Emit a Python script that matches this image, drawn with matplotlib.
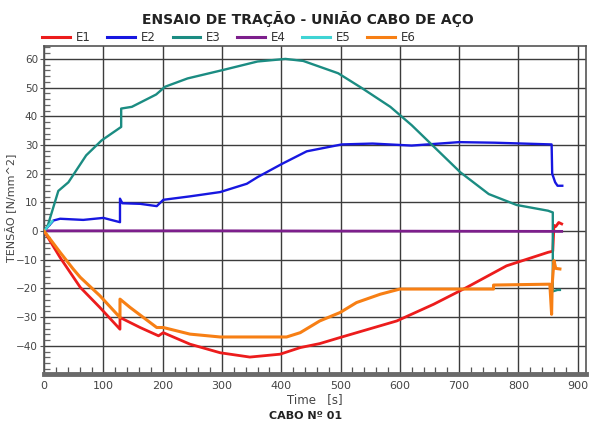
import numpy as np
from matplotlib import pyplot as plt
from matplotlib.lines import Line2D
from matplotlib.ticker import MultipleLocator

# time [s] / tensao [N/mm^2]
E1_t = [0, 27, 61, 94, 128, 128, 162, 193, 201, 246, 297, 347, 398, 432, 465, 499, 595, 657, 713, 780, 850, 858, 860, 863, 868, 873]
E1_v = [0, -9.2, -19.6, -26.6, -34.2, -30.1, -33.6, -36.5, -35.4, -39.4, -42.4, -43.9, -42.9, -40.6, -39.2, -37.1, -31.3, -25.5,
        -19.6, -12.1, -7.4, -7.0, 2.0, 1.6, 3.0, 2.5]

E2_t = [0, 16, 27, 66, 100, 128, 128, 132, 162, 190, 201, 246, 297, 342, 360, 401, 443, 502, 554, 620, 700, 760, 856, 857,
        862, 866, 874]
E2_v = [0, 3.7, 4.3, 3.9, 4.6, 3.1, 11.3, 9.7, 9.5, 8.7, 10.9, 12.1, 13.6, 16.5, 18.8, 23.4, 27.8, 30.2, 30.5, 29.8, 31.0,
        30.8, 30.2, 20.0, 17.0, 15.8, 15.8]

E3_t = [0, 6, 24, 41, 71, 97, 130, 130, 148, 189, 204, 242, 301, 360, 407, 437, 496, 537, 584, 620, 661, 702, 750, 797,
        850, 858, 858, 866, 870]
E3_v = [0, 1.8, 14.0, 17.0, 26.4, 31.6, 36.3, 42.7, 43.3, 47.6, 50.3, 53.2, 56.1, 59.1, 60.0, 59.3, 55.0, 49.7, 43.3,
        36.9, 28.7, 20.5, 12.9, 9.1, 7.1, 6.5, -21.0, -20.5, -20.5]

E4_t = [0, 280, 520, 873]
E4_v = [0.1, 0.1, 0, -0.1]

E5_t = [0, 8, 14]
E5_v = [0, 2.0, 3.5]

E6_t = [0, 27, 49, 61, 94, 128, 128, 145, 190, 201, 246, 297, 409, 432, 465, 499, 527, 567, 600, 713, 758, 758, 853, 856,
        857, 860, 863, 870]
E6_v = [0, -7.4, -13.2, -16.1, -22.5, -30.1, -23.7, -26.6, -33.6, -33.6, -35.9, -36.9, -36.9, -35.4, -31.3, -28.4, -24.9,
        -22.0, -20.2, -20.2, -20.2, -18.8, -18.5, -29.0, -18.5, -10.3, -13.0, -13.2]

SERIES = [("E1", E1_t, E1_v, "#ec1c1c", 2.0),
          ("E2", E2_t, E2_v, "#1717e0", 1.7),
          ("E3", E3_t, E3_v, "#1b8c82", 1.7),
          ("E4", E4_t, E4_v, "#7d1f8c", 2.0),
          ("E5", E5_t, E5_v, "#3fd4d4", 1.7),
          ("E6", E6_t, E6_v, "#f77f14", 2.2)]

fig = plt.figure(figsize=(5.89, 4.23), dpi=100)
ax = fig.add_axes([43.5 / 589, 1 - 374 / 423, (586 - 43.5) / 589, (374 - 46) / 423])

for name, t, v, color, lw in SERIES:
    ax.plot(t, v, color=color, lw=lw, solid_joinstyle='round', zorder=3)

ax.set_xlim(-1, 914)
ax.set_ylim(-49.8, 64.5)

ax.xaxis.set_major_locator(MultipleLocator(100))
ax.xaxis.set_minor_locator(MultipleLocator(20))
ax.yaxis.set_major_locator(MultipleLocator(10))
ax.yaxis.set_minor_locator(MultipleLocator(2))
ax.grid(True, which='major', color='#3c3c3c', lw=1.0, zorder=1)

ax.tick_params(axis='x', which='major', length=0, labelsize=8, pad=5, colors='#333', labelcolor='#444')
ax.tick_params(axis='x', which='minor', direction='in', length=5, width=0.9, colors='#555')
ax.tick_params(axis='y', which='major', direction='out', length=3, labelsize=7.5, pad=1, colors='#555', labelcolor='#444')
ax.tick_params(axis='y', which='minor', direction='in', length=4, width=0.9, colors='#666')

for side in ['top', 'right', 'left']:
    ax.spines[side].set_color('#555')
    ax.spines[side].set_linewidth(1.2)
ax.spines['bottom'].set_color('#6a6a6a')
ax.spines['bottom'].set_linewidth(3.5)

handles = [Line2D([], [], color=c, lw=2.2) for _, _, _, c, _ in SERIES]
fig.legend(handles, [s[0] for s in SERIES], loc='center left', bbox_to_anchor=(0.072, 0.912), ncol=6,
           frameon=False, borderpad=0, borderaxespad=0, handlelength=2.3, handletextpad=0.5,
           columnspacing=1.45, prop={'size': 8.5}, labelcolor='#333')

fig.text(308 / 589, 1 - 19 / 423, "ENSAIO DE TRAÇÃO - UNIÃO CABO DE AÇO", ha='center', va='center',
         fontsize=10, fontweight='bold', color='#222')
fig.text(315 / 589, 1 - 400 / 423, "Time   [s]", ha='center', va='center', fontsize=8.5, color='#444')
fig.text(306 / 589, 1 - 415.5 / 423, "CABO Nº 01", ha='center', va='center', fontsize=8, fontweight='bold', color='#222')
fig.text(11 / 589, 1 - 208 / 423, "TENSÃO [N/mm^2]", ha='center', va='center', rotation=90, fontsize=8, color='#444')

fig.savefig("out.png", dpi=100)
